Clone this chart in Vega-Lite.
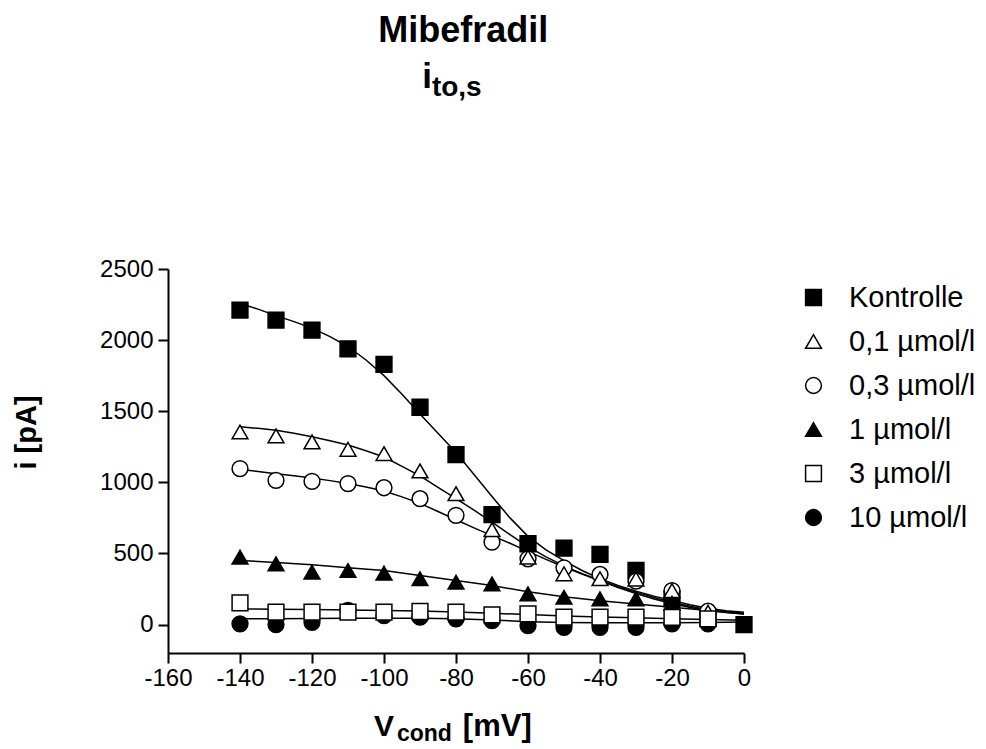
{
  "$schema": "https://vega.github.io/schema/vega-lite/v6.json",
  "width": 576,
  "height": 384,
  "autosize": {"type": "none"},
  "padding": {"left": 168, "top": 269, "right": 242, "bottom": 96},
  "background": "white",
  "config": {
    "view": {"stroke": null},
    "font": "Liberation Sans",
    "axis": {
      "domainColor": "black", "domainWidth": 2, "tickColor": "black", "tickWidth": 2, "tickSize": 10,
      "labelFontSize": 24, "labelColor": "black", "labelFont": "Liberation Sans", "grid": false,
      "titleColor": "black", "titleFont": "Liberation Sans"
    },
    "legend": {
      "orient": "none", "legendX": 631, "legendY": 14, "padding": 0,
      "labelFontSize": 29, "labelColor": "black", "labelFont": "Liberation Sans",
      "symbolSize": 250, "symbolStrokeWidth": 1.5,
      "rowPadding": 14, "labelOffset": 21
    }
  },
  "datasets": {
    "pts": [
      {"V": -140, "I": 5, "s": "10 µmol/l"}, {"V": -130, "I": 0, "s": "10 µmol/l"}, {"V": -120, "I": 16, "s": "10 µmol/l"}, {"V": -110, "I": 100, "s": "10 µmol/l"}, {"V": -100, "I": 63, "s": "10 µmol/l"}, {"V": -90, "I": 52, "s": "10 µmol/l"}, {"V": -80, "I": 40, "s": "10 µmol/l"}, {"V": -70, "I": 28, "s": "10 µmol/l"}, {"V": -60, "I": -7, "s": "10 µmol/l"}, {"V": -50, "I": -19, "s": "10 µmol/l"}, {"V": -40, "I": -19, "s": "10 µmol/l"}, {"V": -30, "I": -19, "s": "10 µmol/l"}, {"V": -20, "I": 5, "s": "10 µmol/l"}, {"V": -10, "I": 5, "s": "10 µmol/l"},
      {"V": -140, "I": 2211, "s": "Kontrolle"}, {"V": -130, "I": 2141, "s": "Kontrolle"}, {"V": -120, "I": 2070, "s": "Kontrolle"}, {"V": -110, "I": 1939, "s": "Kontrolle"}, {"V": -100, "I": 1829, "s": "Kontrolle"}, {"V": -90, "I": 1528, "s": "Kontrolle"}, {"V": -80, "I": 1195, "s": "Kontrolle"}, {"V": -70, "I": 773, "s": "Kontrolle"}, {"V": -60, "I": 568, "s": "Kontrolle"}, {"V": -50, "I": 537, "s": "Kontrolle"}, {"V": -40, "I": 493, "s": "Kontrolle"}, {"V": -30, "I": 380, "s": "Kontrolle"}, {"V": -20, "I": 181, "s": "Kontrolle"}, {"V": -10, "I": 52, "s": "Kontrolle"}, {"V": 0, "I": 0, "s": "Kontrolle"},
      {"V": -140, "I": 1096, "s": "0,3 µmol/l"}, {"V": -130, "I": 1014, "s": "0,3 µmol/l"}, {"V": -120, "I": 1007, "s": "0,3 µmol/l"}, {"V": -110, "I": 991, "s": "0,3 µmol/l"}, {"V": -100, "I": 962, "s": "0,3 µmol/l"}, {"V": -90, "I": 885, "s": "0,3 µmol/l"}, {"V": -80, "I": 768, "s": "0,3 µmol/l"}, {"V": -70, "I": 580, "s": "0,3 µmol/l"}, {"V": -60, "I": 462, "s": "0,3 µmol/l"}, {"V": -50, "I": 399, "s": "0,3 µmol/l"}, {"V": -40, "I": 352, "s": "0,3 µmol/l"}, {"V": -30, "I": 305, "s": "0,3 µmol/l"}, {"V": -20, "I": 239, "s": "0,3 µmol/l"}, {"V": -10, "I": 94, "s": "0,3 µmol/l"},
      {"V": -140, "I": 1354, "s": "0,1 µmol/l"}, {"V": -130, "I": 1326, "s": "0,1 µmol/l"}, {"V": -120, "I": 1284, "s": "0,1 µmol/l"}, {"V": -110, "I": 1232, "s": "0,1 µmol/l"}, {"V": -100, "I": 1202, "s": "0,1 µmol/l"}, {"V": -90, "I": 1080, "s": "0,1 µmol/l"}, {"V": -80, "I": 920, "s": "0,1 µmol/l"}, {"V": -70, "I": 667, "s": "0,1 µmol/l"}, {"V": -60, "I": 474, "s": "0,1 µmol/l"}, {"V": -50, "I": 357, "s": "0,1 µmol/l"}, {"V": -40, "I": 322, "s": "0,1 µmol/l"}, {"V": -30, "I": 320, "s": "0,1 µmol/l"}, {"V": -20, "I": 239, "s": "0,1 µmol/l"}, {"V": -10, "I": 87, "s": "0,1 µmol/l"},
      {"V": -140, "I": 474, "s": "1 µmol/l"}, {"V": -130, "I": 427, "s": "1 µmol/l"}, {"V": -120, "I": 369, "s": "1 µmol/l"}, {"V": -110, "I": 380, "s": "1 µmol/l"}, {"V": -100, "I": 362, "s": "1 µmol/l"}, {"V": -90, "I": 322, "s": "1 µmol/l"}, {"V": -80, "I": 298, "s": "1 µmol/l"}, {"V": -70, "I": 286, "s": "1 µmol/l"}, {"V": -60, "I": 216, "s": "1 µmol/l"}, {"V": -50, "I": 192, "s": "1 µmol/l"}, {"V": -40, "I": 181, "s": "1 µmol/l"}, {"V": -30, "I": 181, "s": "1 µmol/l"}, {"V": -20, "I": 150, "s": "1 µmol/l"}, {"V": -10, "I": 40, "s": "1 µmol/l"},
      {"V": -140, "I": 153, "s": "3 µmol/l"}, {"V": -130, "I": 87, "s": "3 µmol/l"}, {"V": -120, "I": 87, "s": "3 µmol/l"}, {"V": -110, "I": 87, "s": "3 µmol/l"}, {"V": -100, "I": 87, "s": "3 µmol/l"}, {"V": -90, "I": 92, "s": "3 µmol/l"}, {"V": -80, "I": 87, "s": "3 µmol/l"}, {"V": -70, "I": 68, "s": "3 µmol/l"}, {"V": -60, "I": 75, "s": "3 µmol/l"}, {"V": -50, "I": 52, "s": "3 µmol/l"}, {"V": -40, "I": 52, "s": "3 µmol/l"}, {"V": -30, "I": 52, "s": "3 µmol/l"}, {"V": -20, "I": 50, "s": "3 µmol/l"}, {"V": -10, "I": 40, "s": "3 µmol/l"}
    ],
    "fit": [
      {"V": -140, "I": 2258, "s": "Kontrolle"}, {"V": -135, "I": 2218, "s": "Kontrolle"}, {"V": -130, "I": 2172, "s": "Kontrolle"}, {"V": -125, "I": 2130, "s": "Kontrolle"}, {"V": -120, "I": 2084, "s": "Kontrolle"}, {"V": -115, "I": 2025, "s": "Kontrolle"}, {"V": -110, "I": 1955, "s": "Kontrolle"}, {"V": -105, "I": 1860, "s": "Kontrolle"}, {"V": -100, "I": 1750, "s": "Kontrolle"}, {"V": -95, "I": 1620, "s": "Kontrolle"}, {"V": -90, "I": 1480, "s": "Kontrolle"}, {"V": -85, "I": 1345, "s": "Kontrolle"}, {"V": -80, "I": 1210, "s": "Kontrolle"}, {"V": -75, "I": 1055, "s": "Kontrolle"}, {"V": -70, "I": 900, "s": "Kontrolle"}, {"V": -65, "I": 750, "s": "Kontrolle"}, {"V": -60, "I": 620, "s": "Kontrolle"}, {"V": -55, "I": 525, "s": "Kontrolle"}, {"V": -50, "I": 450, "s": "Kontrolle"}, {"V": -45, "I": 380, "s": "Kontrolle"}, {"V": -40, "I": 322, "s": "Kontrolle"}, {"V": -35, "I": 275, "s": "Kontrolle"}, {"V": -30, "I": 235, "s": "Kontrolle"}, {"V": -25, "I": 200, "s": "Kontrolle"}, {"V": -20, "I": 170, "s": "Kontrolle"}, {"V": -15, "I": 140, "s": "Kontrolle"}, {"V": -10, "I": 115, "s": "Kontrolle"}, {"V": -5, "I": 97, "s": "Kontrolle"}, {"V": 0, "I": 87, "s": "Kontrolle"},
      {"V": -140, "I": 1390, "s": "0,1 µmol/l"}, {"V": -135, "I": 1380, "s": "0,1 µmol/l"}, {"V": -130, "I": 1366, "s": "0,1 µmol/l"}, {"V": -125, "I": 1345, "s": "0,1 µmol/l"}, {"V": -120, "I": 1320, "s": "0,1 µmol/l"}, {"V": -115, "I": 1293, "s": "0,1 µmol/l"}, {"V": -110, "I": 1262, "s": "0,1 µmol/l"}, {"V": -105, "I": 1222, "s": "0,1 µmol/l"}, {"V": -100, "I": 1178, "s": "0,1 µmol/l"}, {"V": -95, "I": 1112, "s": "0,1 µmol/l"}, {"V": -90, "I": 1045, "s": "0,1 µmol/l"}, {"V": -85, "I": 965, "s": "0,1 µmol/l"}, {"V": -80, "I": 885, "s": "0,1 µmol/l"}, {"V": -75, "I": 805, "s": "0,1 µmol/l"}, {"V": -70, "I": 720, "s": "0,1 µmol/l"}, {"V": -65, "I": 632, "s": "0,1 µmol/l"}, {"V": -60, "I": 548, "s": "0,1 µmol/l"}, {"V": -55, "I": 476, "s": "0,1 µmol/l"}, {"V": -50, "I": 413, "s": "0,1 µmol/l"}, {"V": -45, "I": 358, "s": "0,1 µmol/l"}, {"V": -40, "I": 310, "s": "0,1 µmol/l"}, {"V": -35, "I": 260, "s": "0,1 µmol/l"}, {"V": -30, "I": 218, "s": "0,1 µmol/l"}, {"V": -25, "I": 180, "s": "0,1 µmol/l"}, {"V": -20, "I": 148, "s": "0,1 µmol/l"}, {"V": -15, "I": 120, "s": "0,1 µmol/l"}, {"V": -10, "I": 99, "s": "0,1 µmol/l"}, {"V": -5, "I": 85, "s": "0,1 µmol/l"}, {"V": 0, "I": 75, "s": "0,1 µmol/l"},
      {"V": -140, "I": 1092, "s": "0,3 µmol/l"}, {"V": -135, "I": 1077, "s": "0,3 µmol/l"}, {"V": -130, "I": 1061, "s": "0,3 µmol/l"}, {"V": -125, "I": 1047, "s": "0,3 µmol/l"}, {"V": -120, "I": 1031, "s": "0,3 µmol/l"}, {"V": -115, "I": 1012, "s": "0,3 µmol/l"}, {"V": -110, "I": 991, "s": "0,3 µmol/l"}, {"V": -105, "I": 967, "s": "0,3 µmol/l"}, {"V": -100, "I": 939, "s": "0,3 µmol/l"}, {"V": -95, "I": 898, "s": "0,3 µmol/l"}, {"V": -90, "I": 852, "s": "0,3 µmol/l"}, {"V": -85, "I": 795, "s": "0,3 µmol/l"}, {"V": -80, "I": 737, "s": "0,3 µmol/l"}, {"V": -75, "I": 680, "s": "0,3 µmol/l"}, {"V": -70, "I": 625, "s": "0,3 µmol/l"}, {"V": -65, "I": 572, "s": "0,3 µmol/l"}, {"V": -60, "I": 515, "s": "0,3 µmol/l"}, {"V": -55, "I": 458, "s": "0,3 µmol/l"}, {"V": -50, "I": 405, "s": "0,3 µmol/l"}, {"V": -45, "I": 355, "s": "0,3 µmol/l"}, {"V": -40, "I": 308, "s": "0,3 µmol/l"}, {"V": -35, "I": 266, "s": "0,3 µmol/l"}, {"V": -30, "I": 228, "s": "0,3 µmol/l"}, {"V": -25, "I": 190, "s": "0,3 µmol/l"}, {"V": -20, "I": 157, "s": "0,3 µmol/l"}, {"V": -15, "I": 128, "s": "0,3 µmol/l"}, {"V": -10, "I": 104, "s": "0,3 µmol/l"}, {"V": -5, "I": 90, "s": "0,3 µmol/l"}, {"V": 0, "I": 80, "s": "0,3 µmol/l"},
      {"V": -140, "I": 451, "s": "1 µmol/l"}, {"V": -130, "I": 437, "s": "1 µmol/l"}, {"V": -120, "I": 420, "s": "1 µmol/l"}, {"V": -110, "I": 400, "s": "1 µmol/l"}, {"V": -100, "I": 380, "s": "1 µmol/l"}, {"V": -90, "I": 345, "s": "1 µmol/l"}, {"V": -80, "I": 310, "s": "1 µmol/l"}, {"V": -70, "I": 275, "s": "1 µmol/l"}, {"V": -60, "I": 230, "s": "1 µmol/l"}, {"V": -50, "I": 195, "s": "1 µmol/l"}, {"V": -40, "I": 168, "s": "1 µmol/l"}, {"V": -30, "I": 145, "s": "1 µmol/l"}, {"V": -20, "I": 122, "s": "1 µmol/l"}, {"V": -10, "I": 98, "s": "1 µmol/l"}, {"V": 0, "I": 75, "s": "1 µmol/l"},
      {"V": -140, "I": 110, "s": "3 µmol/l"}, {"V": -130, "I": 108, "s": "3 µmol/l"}, {"V": -120, "I": 105, "s": "3 µmol/l"}, {"V": -110, "I": 102, "s": "3 µmol/l"}, {"V": -100, "I": 99, "s": "3 µmol/l"}, {"V": -90, "I": 95, "s": "3 µmol/l"}, {"V": -80, "I": 89, "s": "3 µmol/l"}, {"V": -70, "I": 80, "s": "3 µmol/l"}, {"V": -60, "I": 70, "s": "3 µmol/l"}, {"V": -50, "I": 61, "s": "3 µmol/l"}, {"V": -40, "I": 54, "s": "3 µmol/l"}, {"V": -30, "I": 47, "s": "3 µmol/l"}, {"V": -20, "I": 41, "s": "3 µmol/l"}, {"V": -10, "I": 35, "s": "3 µmol/l"}, {"V": 0, "I": 30, "s": "3 µmol/l"},
      {"V": -140, "I": 40, "s": "10 µmol/l"}, {"V": -130, "I": 41, "s": "10 µmol/l"}, {"V": -120, "I": 42, "s": "10 µmol/l"}, {"V": -110, "I": 44, "s": "10 µmol/l"}, {"V": -100, "I": 45, "s": "10 µmol/l"}, {"V": -90, "I": 44, "s": "10 µmol/l"}, {"V": -80, "I": 40, "s": "10 µmol/l"}, {"V": -70, "I": 32, "s": "10 µmol/l"}, {"V": -60, "I": 20, "s": "10 µmol/l"}, {"V": -50, "I": 14, "s": "10 µmol/l"}, {"V": -40, "I": 12, "s": "10 µmol/l"}, {"V": -30, "I": 12, "s": "10 µmol/l"}, {"V": -20, "I": 13, "s": "10 µmol/l"}, {"V": -10, "I": 15, "s": "10 µmol/l"}, {"V": 0, "I": 18, "s": "10 µmol/l"}
    ]
  },
  "layer": [
    {
      "data": {"name": "fit"},
      "mark": {"type": "line", "color": "black", "strokeWidth": 1.5},
      "encoding": {
        "x": {"field": "V", "type": "quantitative", "scale": {"domain": [-160, 0], "nice": false, "zero": false},
              "axis": {"values": [-160, -140, -120, -100, -80, -60, -40, -20, 0], "title": null, "labelPadding": 3, "labelFlush": false, "labelExpr": "'' + datum.value"}},
        "y": {"field": "I", "type": "quantitative", "scale": {"domain": [-200, 2500], "nice": false, "zero": false},
              "axis": {"values": [0, 500, 1000, 1500, 2000, 2500], "title": "i [pA]", "titleFontSize": 29, "titleFontWeight": "bold", "titleX": -127, "titleY": 163, "labelPadding": 5, "labelExpr": "'' + datum.value"}},
        "detail": {"field": "s", "type": "nominal"}
      }
    },
    {
      "data": {"name": "pts"},
      "mark": {"type": "point", "size": 250, "strokeWidth": 1.5, "opacity": 1, "fillOpacity": 1, "strokeOpacity": 1},
      "encoding": {
        "x": {"field": "V", "type": "quantitative"},
        "y": {"field": "I", "type": "quantitative"},
        "shape": {"field": "s", "type": "nominal", "title": null,
                  "scale": {"domain": ["Kontrolle", "0,1 µmol/l", "0,3 µmol/l", "1 µmol/l", "3 µmol/l", "10 µmol/l"],
                            "range": ["square", "triangle-up", "circle", "triangle-up", "square", "circle"]}},
        "fill": {"field": "s", "type": "nominal", "title": null,
                 "scale": {"domain": ["Kontrolle", "0,1 µmol/l", "0,3 µmol/l", "1 µmol/l", "3 µmol/l", "10 µmol/l"],
                           "range": ["black", "white", "white", "black", "white", "black"]}},
        "stroke": {"field": "s", "type": "nominal", "title": null,
                   "scale": {"domain": ["Kontrolle", "0,1 µmol/l", "0,3 µmol/l", "1 µmol/l", "3 µmol/l", "10 µmol/l"],
                             "range": ["black", "black", "black", "black", "black", "black"]}}
      }
    },
    {
      "data": {"values": [{}]},
      "mark": {"type": "text", "text": "Mibefradil", "fontSize": 36, "fontWeight": "bold", "align": "center", "baseline": "alphabetic", "color": "black"},
      "encoding": {"x": {"datum": -78}, "y": {"datum": 4096}}
    },
    {
      "data": {"values": [{}]},
      "mark": {"type": "text", "text": "i", "fontSize": 35, "fontWeight": "bold", "align": "left", "baseline": "alphabetic", "color": "black"},
      "encoding": {"x": {"datum": -89.4}, "y": {"datum": 3773}}
    },
    {
      "data": {"values": [{}]},
      "mark": {"type": "text", "text": "to,s", "fontSize": 28, "fontWeight": "bold", "align": "left", "baseline": "alphabetic", "color": "black"},
      "encoding": {"x": {"datum": -86.7}, "y": {"datum": 3716}}
    },
    {
      "data": {"values": [{}]},
      "mark": {"type": "text", "text": "V", "fontSize": 30, "fontWeight": "bold", "align": "left", "baseline": "alphabetic", "color": "black"},
      "encoding": {"x": {"datum": -102.8}, "y": {"datum": -784}}
    },
    {
      "data": {"values": [{}]},
      "mark": {"type": "text", "text": "cond", "fontSize": 23, "fontWeight": "bold", "align": "left", "baseline": "alphabetic", "color": "black"},
      "encoding": {"x": {"datum": -96.4}, "y": {"datum": -819}}
    },
    {
      "data": {"values": [{}]},
      "mark": {"type": "text", "text": "[mV]", "fontSize": 31, "fontWeight": "bold", "align": "left", "baseline": "alphabetic", "color": "black"},
      "encoding": {"x": {"datum": -78.1}, "y": {"datum": -784}}
    }
  ]
}
